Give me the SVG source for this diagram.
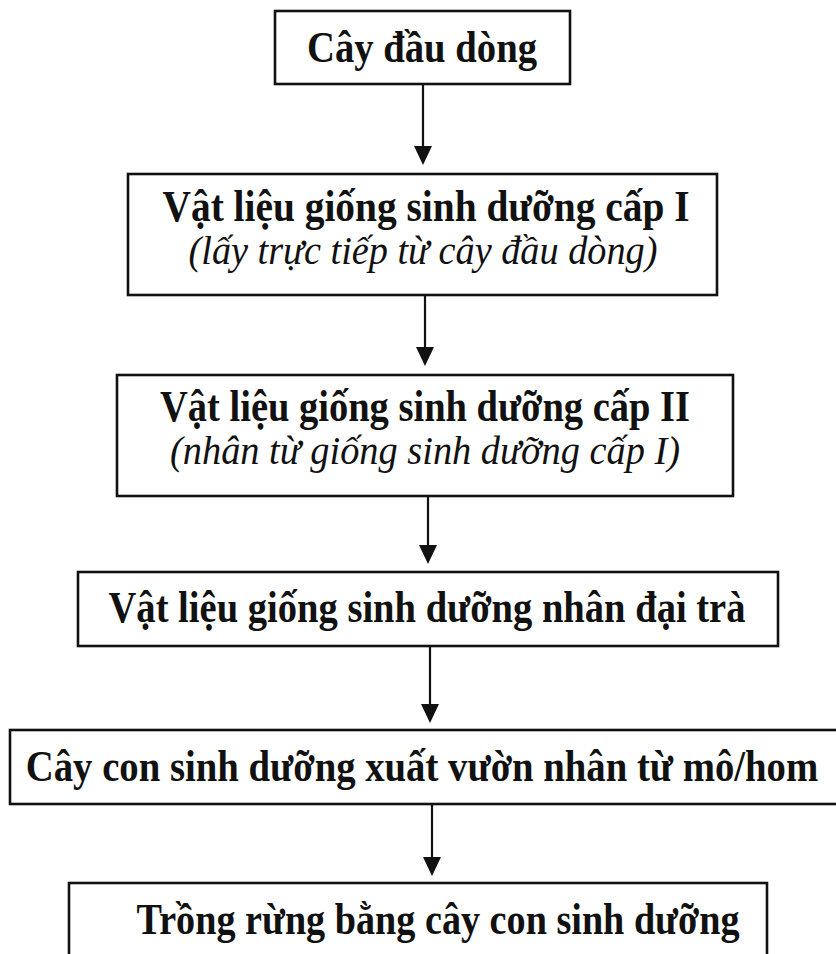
<svg xmlns="http://www.w3.org/2000/svg" width="836" height="954" viewBox="0 0 836 954">
  <style>
    .box { fill: #fff; stroke: #111; stroke-width: 2.6; }
    .t { font-family: "Liberation Serif", "Times New Roman", serif; font-size: 44px; font-weight: bold; fill: #111; text-anchor: middle; }
    .i { font-family: "Liberation Serif", "Times New Roman", serif; font-size: 41px; font-style: italic; fill: #111; text-anchor: middle; }
    .edge { stroke: #111; stroke-width: 2.2; fill: none; }
    .head { fill: #111; }
  </style>
  <rect x="0" y="0" width="836" height="954" fill="#fff"/>

  <g id="connectors">
    <path class="edge" d="M423,85 V150"/>
    <path class="edge" d="M425,296 V350"/>
    <path class="edge" d="M428,496 V548"/>
    <path class="edge" d="M430,646 V707"/>
    <path class="edge" d="M432,804 V860"/>
    <path class="head" d="M414,146 L432,146 L423,165 Z"/>
    <path class="head" d="M416,347 L434,347 L425,366 Z"/>
    <path class="head" d="M419,545 L437,545 L428,564 Z"/>
    <path class="head" d="M421,704 L439,704 L430,723 Z"/>
    <path class="head" d="M423,857 L441,857 L432,876 Z"/>
  </g>

  <g id="node-cay-dau-dong">
    <rect class="box" x="275" y="11" width="295" height="73"/>
    <text class="t" x="422" y="62" textLength="230" lengthAdjust="spacingAndGlyphs">Cây đầu dòng</text>
  </g>

  <g id="node-cap-1">
    <rect class="box" x="128" y="174" width="589" height="121"/>
    <text class="t" x="426" y="221" textLength="527" lengthAdjust="spacingAndGlyphs">Vật liệu giống sinh dưỡng cấp I</text>
    <text class="i" x="423" y="264" textLength="469" lengthAdjust="spacingAndGlyphs">(lấy trực tiếp từ cây đầu dòng)</text>
  </g>

  <g id="node-cap-2">
    <rect class="box" x="117" y="375" width="616" height="121"/>
    <text class="t" x="425" y="421" textLength="530" lengthAdjust="spacingAndGlyphs">Vật liệu giống sinh dưỡng cấp II</text>
    <text class="i" x="425" y="464" textLength="510" lengthAdjust="spacingAndGlyphs">(nhân từ giống sinh dưỡng cấp I)</text>
  </g>

  <g id="node-dai-tra">
    <rect class="box" x="78" y="572" width="700" height="74"/>
    <text class="t" x="427" y="622" textLength="637" lengthAdjust="spacingAndGlyphs">Vật liệu giống sinh dưỡng nhân đại trà</text>
  </g>

  <g id="node-xuat-vuon">
    <rect class="box" x="10" y="730" width="830" height="74"/>
    <text class="t" transform="translate(422,781) scale(0.88,1)" x="0" y="0">Cây con sinh dưỡng xuất vườn nhân từ mô/hom</text>
  </g>

  <g id="node-trong-rung">
    <rect class="box" x="69" y="883" width="698" height="90"/>
    <text class="t" x="438" y="934" textLength="603" lengthAdjust="spacingAndGlyphs">Trồng rừng bằng cây con sinh dưỡng</text>
  </g>
</svg>
